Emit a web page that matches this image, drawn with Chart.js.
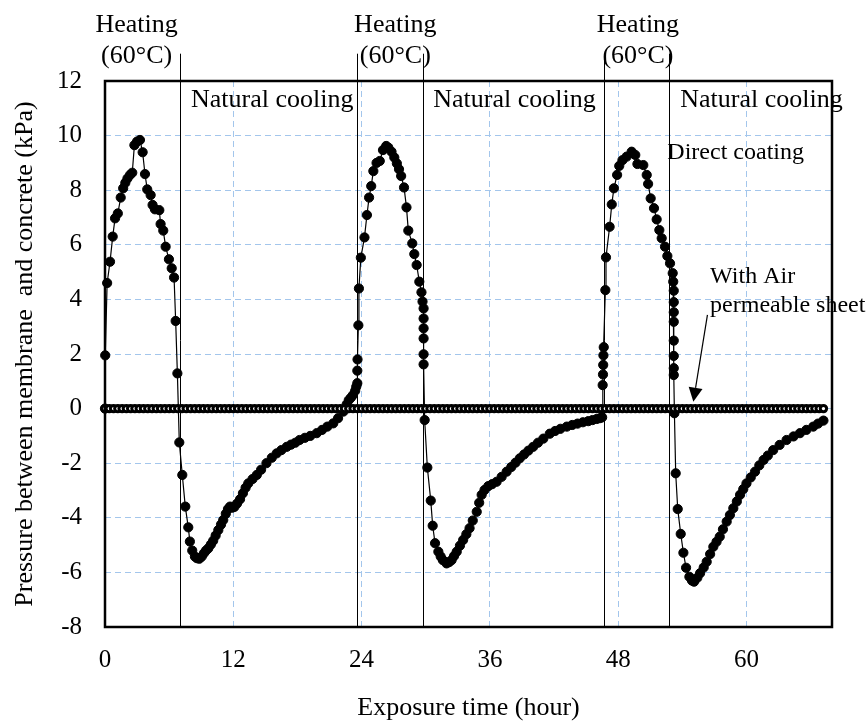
<!DOCTYPE html>
<html lang="en">
<head>
	<meta charset="UTF-8">
	<title>Pressure between membrane and concrete</title>
	<script src="https://cdn.jsdelivr.net/npm/chart.js@4.4.1/dist/chart.umd.min.js"></script>
	<style>
		html, body {
			margin: 0;
			padding: 0;
			background: #fff;
		}

		#canvasContainer {
			width: 866px;
			height: 721px;
		}
	</style>
</head>

<body>
	<div id="canvasContainer">
		<canvas id="chart"></canvas>
	</div>

	<script>
		// Direct coating (hour, kPa)
		const coatingTime = [
			0, 0.02, 0.2, 0.47, 0.72, 0.94, 1.2, 1.47, 1.7, 1.9, 2.1, 2.34, 2.55, 2.75, 3.0, 3.27, 3.52, 3.74, 3.95, 4.27,
			4.45, 4.67, 5.08, 5.2, 5.45, 5.67, 5.98, 6.24, 6.46, 6.61, 6.77, 6.95, 7.23, 7.51, 7.79, 7.94, 8.16, 8.41, 8.6, 8.82,
			9.05, 9.25, 9.45, 9.66, 9.9, 10.12, 10.35, 10.6, 10.85, 11.06, 11.3, 11.5, 11.7, 11.9, 12.1, 12.35, 12.63, 12.9, 13.15, 13.4,
			13.8, 14.2, 14.6, 15.1, 15.6, 16.06, 16.5, 17.0, 17.4, 17.8, 18.2, 18.7, 19.2, 19.8, 20.3, 20.8, 21.35, 21.8, 22.3, 22.6,
			22.8, 23.0, 23.2, 23.4, 23.5,
			23.6, 23.6, 23.62, 23.7, 23.75, 23.93, 24.27, 24.5, 24.7, 24.9, 25.1, 25.4, 25.7, 26.0, 26.3, 26.5, 26.8, 27.06, 27.3, 27.5,
			27.7, 27.97, 28.2, 28.37, 28.74, 28.93, 29.15, 29.4, 29.6, 29.7, 29.8, 29.8, 29.8, 29.8, 29.8, 29.8, 29.9, 30.15, 30.47, 30.65,
			30.87, 31.18, 31.4, 31.6, 31.95, 32.2, 32.42, 32.65, 32.9, 33.2, 33.5, 33.8, 34.1, 34.4, 34.77, 35.0, 35.23, 35.5, 35.85, 36.2,
			36.63, 37.1, 37.57, 38.0, 38.4, 38.8, 39.2, 39.6, 40.05, 40.5, 41.0, 41.6, 42.1, 42.6, 43.2, 43.7, 44.2, 44.7, 45.2, 45.6,
			46.0, 46.3, 46.5,
			46.55, 46.58, 46.6, 46.62, 46.65, 46.8, 46.86, 47.2, 47.4, 47.6, 47.9, 48.1, 48.4, 48.8, 49.26, 49.6, 49.8, 50.35, 50.67, 50.8,
			51.04, 51.35, 51.6, 51.85, 52.07, 52.38, 52.6, 52.85, 53.1, 53.15, 53.2, 53.2, 53.2, 53.2, 53.2, 53.2, 53.2, 53.2, 53.26, 53.38,
			53.57, 53.85, 54.1, 54.35, 54.66, 54.9, 55.1, 55.4, 55.66, 56.0, 56.28, 56.6, 56.9, 57.2, 57.5, 57.8, 58.15, 58.45, 58.77, 59.1,
			59.4, 59.7, 60.0, 60.4, 60.8, 61.2, 61.6, 62.0, 62.5, 63.1, 63.75, 64.4, 65.0, 65.6, 66.25, 66.7, 67.2
		];
		const coatingPressure = [
			0, 1.95, 4.6, 5.38, 6.3, 6.97, 7.15, 7.73, 8.07, 8.27, 8.43, 8.56, 8.64, 9.65, 9.78, 9.84, 9.39, 8.59, 8.03, 7.82,
			7.46, 7.3, 7.27, 6.76, 6.52, 5.93, 5.47, 5.14, 4.8, 3.21, 1.29, -1.24, -2.43, -3.59, -4.35, -4.87, -5.2, -5.42, -5.48, -5.5,
			-5.42, -5.3, -5.2, -5.12, -4.98, -4.84, -4.65, -4.45, -4.25, -4.08, -3.85, -3.68, -3.59, -3.63, -3.6, -3.48, -3.32, -3.1, -2.9, -2.74,
			-2.58, -2.43, -2.24, -2.0, -1.8, -1.64, -1.52, -1.4, -1.32, -1.25, -1.15, -1.07, -1.0, -0.9, -0.78, -0.66, -0.54, -0.35, -0.11, 0.15,
			0.31, 0.4, 0.5, 0.65, 0.8,
			0.93, 1.39, 1.8, 3.05, 4.4, 5.53, 6.27, 7.09, 7.73, 8.15, 8.7, 9.0, 9.07, 9.47, 9.62, 9.56, 9.41, 9.2, 8.98, 8.77,
			8.52, 8.1, 7.37, 6.52, 6.05, 5.66, 5.26, 4.65, 4.26, 3.92, 3.67, 3.3, 2.94, 2.57, 1.99, 1.62, -0.42, -2.16, -3.37, -4.29,
			-4.93, -5.24, -5.42, -5.55, -5.67, -5.62, -5.55, -5.4, -5.24, -5.02, -4.81, -4.6, -4.38, -4.1, -3.78, -3.45, -3.16, -2.98, -2.84, -2.77,
			-2.68, -2.5, -2.31, -2.14, -1.98, -1.82, -1.68, -1.54, -1.4, -1.25, -1.1, -0.92, -0.82, -0.74, -0.66, -0.6, -0.55, -0.5, -0.46, -0.42,
			-0.38, -0.35, -0.32,
			0.86, 1.25, 1.6, 1.95, 2.25, 4.34, 5.54, 6.66, 7.48, 8.07, 8.56, 8.89, 9.1, 9.23, 9.41, 9.29, 8.96, 8.92, 8.56, 8.23,
			7.7, 7.34, 6.93, 6.54, 6.24, 5.93, 5.59, 5.32, 4.96, 4.65, 4.32, 3.9, 3.53, 3.18, 2.49, 1.93, 1.48, 1.23, -0.17, -2.37,
			-3.68, -4.59, -5.28, -5.83, -6.16, -6.3, -6.34, -6.2, -6.03, -5.82, -5.61, -5.33, -5.06, -4.88, -4.69, -4.42, -4.14, -3.9, -3.65, -3.4,
			-3.16, -2.95, -2.74, -2.52, -2.31, -2.08, -1.88, -1.72, -1.52, -1.33, -1.15, -1.02, -0.9, -0.78, -0.66, -0.55, -0.44
		];

		// With air permeable sheet: logged at a fixed interval, stays at 0 kPa the whole time
		const sheetInterval = 0.4;
		const sheetCount = 169;
		const sheetTime = Array.from({ length: sheetCount }, (_, i) => +(i * sheetInterval).toFixed(2));
		const sheetPressure = sheetTime.map(() => 0);

		// start/end of each heating period (hour)
		const heatingBounds = [7.0, 23.6, 29.7, 46.7, 52.8];

		const xTicks = [0, 12, 24, 36, 48, 60];

		const serif = '"Liberation Serif", "Times New Roman", serif';
		const gridColor = '#a3c6ec';

		// text placed on the plot, in data units
		const notes = [
			{ text: 'Heating', x: 2.96, y: 13.8, align: 'center', size: 26 },
			{ text: '(60°C)', x: 2.96, y: 12.66, align: 'center', size: 26 },
			{ text: 'Heating', x: 27.15, y: 13.8, align: 'center', size: 26 },
			{ text: '(60°C)', x: 27.15, y: 12.66, align: 'center', size: 26 },
			{ text: 'Heating', x: 49.85, y: 13.8, align: 'center', size: 26 },
			{ text: '(60°C)', x: 49.85, y: 12.66, align: 'center', size: 26 },
			{ text: 'Natural cooling', x: 8.04, y: 11.04, align: 'left', size: 26 },
			{ text: 'Natural cooling', x: 30.7, y: 11.04, align: 'left', size: 26 },
			{ text: 'Natural cooling', x: 53.8, y: 11.04, align: 'left', size: 26 },
			{ text: 'Direct coating', x: 52.6, y: 9.13, align: 'left', size: 24 },
			{ text: 'With Air', x: 56.6, y: 4.6, align: 'left', size: 24 },
			{ text: 'permeable sheet', x: 56.6, y: 3.54, align: 'left', size: 24 }
		];
		const arrow = { from: [56.35, 3.43], to: [55.03, 0.25] };

		const overlay = {
			id: 'overlay',
			beforeDatasetsDraw(chart) {
				const { ctx, chartArea, scales: { x, y } } = chart;
				ctx.save();
				ctx.strokeStyle = '#000';
				ctx.lineWidth = 1;
				for (const t of heatingBounds) {
					const px = Math.round(x.getPixelForValue(t)) + 0.5;
					ctx.beginPath();
					ctx.moveTo(px, y.getPixelForValue(13));
					ctx.lineTo(px, chartArea.bottom);
					ctx.stroke();
				}
				ctx.restore();
			},
			afterDraw(chart) {
				const { ctx, chartArea, scales: { x, y } } = chart;
				ctx.save();
				ctx.strokeStyle = '#000';
				ctx.lineWidth = 2.5;
				ctx.strokeRect(chartArea.left, chartArea.top, chartArea.right - chartArea.left, chartArea.bottom - chartArea.top);

				ctx.fillStyle = '#000';
				ctx.textBaseline = 'alphabetic';
				for (const n of notes) {
					ctx.font = n.size + 'px ' + serif;
					ctx.textAlign = n.align;
					ctx.fillText(n.text, x.getPixelForValue(n.x), y.getPixelForValue(n.y));
				}

				const x0 = x.getPixelForValue(arrow.from[0]), y0 = y.getPixelForValue(arrow.from[1]);
				const x1 = x.getPixelForValue(arrow.to[0]), y1 = y.getPixelForValue(arrow.to[1]);
				const ang = Math.atan2(y1 - y0, x1 - x0);
				const len = 14, half = 7;
				const bx = x1 - len * Math.cos(ang), by = y1 - len * Math.sin(ang);
				ctx.lineWidth = 1.2;
				ctx.beginPath();
				ctx.moveTo(x0, y0);
				ctx.lineTo(bx, by);
				ctx.stroke();
				ctx.beginPath();
				ctx.moveTo(x1, y1);
				ctx.lineTo(bx + half * Math.sin(ang), by - half * Math.cos(ang));
				ctx.lineTo(bx - half * Math.sin(ang), by + half * Math.cos(ang));
				ctx.closePath();
				ctx.fill();
				ctx.restore();
			}
		};

		const ctx = document.getElementById('chart').getContext('2d');

		new Chart(ctx, {
			type: 'line',
			plugins: [overlay],
			data: {
				datasets: [
					{
						label: 'With Air permeable sheet',
						data: sheetTime.map((t, i) => ({ x: t, y: sheetPressure[i] })),
						borderColor: '#000',
						borderWidth: 1,
						pointRadius: 3.2,
						pointBorderWidth: 3,
						pointBackgroundColor: '#fff',
						pointBorderColor: '#000',
						clip: 12
					},
					{
						label: 'Direct coating',
						data: coatingTime.map((t, i) => ({ x: t, y: coatingPressure[i] })),
						borderColor: '#000',
						borderWidth: 1.2,
						pointRadius: 4.6,
						pointBorderWidth: 1,
						pointBackgroundColor: '#000',
						pointBorderColor: '#000',
						clip: 12
					}
				]
			},
			options: {
				responsive: true,
				maintainAspectRatio: false,
				animation: false,
				layout: {
					padding: { top: 81, right: 34, bottom: 0, left: 0 }
				},
				plugins: {
					legend: { display: false },
					tooltip: { enabled: false }
				},
				scales: {
					x: {
						type: 'linear',
						min: 0,
						max: 68,
						afterBuildTicks: scale => {
							scale.ticks = xTicks.map(v => ({ value: v }));
						},
						afterFit: scale => {
							scale.height = 94;
						},
						ticks: {
							color: '#000',
							padding: 18,
							font: { family: serif, size: 25 }
						},
						grid: { color: gridColor, lineWidth: 1, drawTicks: false },
						border: { display: false, dash: [6, 4] },
						title: {
							display: true,
							text: 'Exposure time (hour)',
							color: '#000',
							padding: 0,
							font: { family: serif, size: 26, lineHeight: 1 }
						}
					},
					y: {
						min: -8,
						max: 12,
						afterFit: scale => {
							scale.width = 105;
						},
						ticks: {
							stepSize: 2,
							color: '#000',
							padding: 23,
							font: { family: serif, size: 25 }
						},
						grid: { color: gridColor, lineWidth: 1, drawTicks: false },
						border: { display: false, dash: [6, 4] },
						title: {
							display: true,
							text: 'Pressure between membrane  and concrete (kPa)',
							color: '#000',
							padding: { top: 12, bottom: 0 },
							font: { family: serif, size: 26, lineHeight: 1 }
						}
					}
				}
			}
		});
	</script>
</body>

</html>
